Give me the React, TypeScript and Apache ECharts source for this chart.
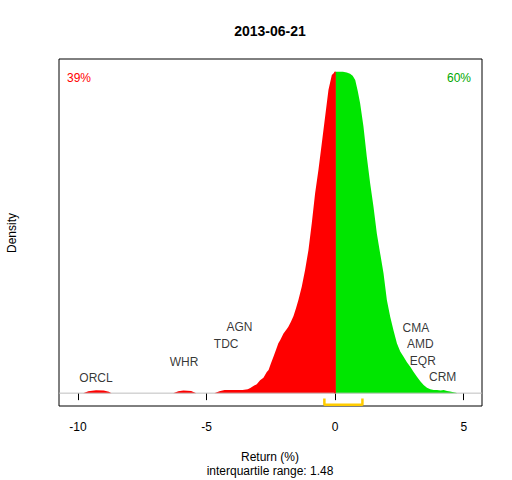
import React, { useEffect, useRef } from "react";
import * as echarts from "echarts";

const titleText = "2013-06-21";
const xTicks = [-10, -5, 0, 5];
const xMin = -10.74;
const xMax = 5.71;

const redX = [-9.8, -9.6, -9.3, -9.0, -8.8, -8.7, -6.3, -6.1, -5.9, -5.6, -5.4, -4.7, -4.5, -4.3, -3.6, -3.4, -3.3, -3.18, -3.05, -2.92, -2.79, -2.66, -2.59, -2.5, -2.4, -2.3, -2.21, -2.14, -2.01, -1.88, -1.82, -1.72, -1.62, -1.52, -1.43, -1.3, -1.17, -1.04, -0.91, -0.78, -0.65, -0.52, -0.39, -0.26, -0.13, 0];
const redDensity = [0, 0.006, 0.009, 0.008, 0.004, 0, 0, 0.006, 0.008, 0.007, 0, 0, 0.006, 0.01, 0.01, 0.012, 0.016, 0.022, 0.028, 0.04, 0.048, 0.066, 0.072, 0.092, 0.113, 0.135, 0.155, 0.165, 0.186, 0.2, 0.207, 0.222, 0.24, 0.265, 0.29, 0.331, 0.383, 0.445, 0.529, 0.622, 0.695, 0.778, 0.861, 0.944, 0.99, 1.0];

const greenX = [0, 0.15, 0.3, 0.45, 0.58, 0.68, 0.78, 0.88, 0.97, 1.1, 1.23, 1.36, 1.49, 1.62, 1.75, 1.88, 2.01, 2.14, 2.27, 2.4, 2.53, 2.66, 2.79, 2.92, 3.05, 3.18, 3.31, 3.44, 3.57, 3.7, 3.83, 3.96, 4.1, 4.22, 4.35, 4.47, 4.6, 4.7, 4.75];
const greenDensity = [1.0, 1.0, 1.0, 0.998, 0.994, 0.988, 0.975, 0.94, 0.902, 0.83, 0.736, 0.653, 0.58, 0.497, 0.435, 0.373, 0.29, 0.238, 0.195, 0.155, 0.13, 0.113, 0.096, 0.082, 0.066, 0.051, 0.037, 0.025, 0.017, 0.012, 0.01, 0.01, 0.008, 0.01, 0.007, 0.005, 0.003, 0.001, 0];

const labelNames = ["ORCL", "WHR", "TDC", "AGN", "CMA", "AMD", "EQR", "CRM"];
const labelX = [-9.3, -5.88, -4.24, -3.72, 3.14, 3.31, 3.41, 4.18];
const labelY = [0.048, 0.098, 0.152, 0.205, 0.203, 0.152, 0.1, 0.049];

const q1 = -0.42;
const q3 = 1.06;
const iqrText = "interquartile range: 1.48";
const negShare = "39%";
const posShare = "60%";

const FONT = '"Liberation Sans", Arial, sans-serif';

export default function App() {
  const ref = useRef<HTMLDivElement>(null);
  useEffect(() => {
    if (!ref.current) return;
    const chart = echarts.init(ref.current, null, { renderer: "svg" });
    const redData = redX.map((x, i) => [x, redDensity[i]]);
    const greenData = greenX.map((x, i) => [x, greenDensity[i]]);
    const labelData = labelNames.map((n, i) => [labelX[i], labelY[i], n]);
    const splitX = redX[redX.length - 1];
    const splitTop = redDensity[redDensity.length - 1];
    const bTop = -0.017;
    const bBot = -0.036;
    chart.setOption({
      animation: false,
      textStyle: { fontFamily: FONT },
      grid: {
        left: 59,
        right: 30,
        top: 59,
        bottom: 74,
        show: true,
        borderColor: "#000",
        borderWidth: 1,
        backgroundColor: "transparent",
      },
      xAxis: {
        type: "value",
        min: xMin,
        max: xMax,
        axisLine: { show: false },
        splitLine: { show: false },
        axisTick: {
          show: true,
          customValues: xTicks,
          length: 7,
          lineStyle: { color: "#000" },
        },
        axisLabel: {
          customValues: xTicks,
          margin: 15,
          color: "#000",
          fontSize: 12,
          fontFamily: FONT,
        },
      },
      yAxis: {
        type: "value",
        min: -0.04,
        max: 1.04,
        show: false,
        splitLine: { show: false },
      },
      series: [
        {
          type: "line",
          data: greenData,
          showSymbol: false,
          symbol: "none",
          lineStyle: { width: 0, color: "#00E600" },
          itemStyle: { color: "#00E600" },
          areaStyle: { color: "#00E600", opacity: 1 },
          z: 2,
        },
        {
          type: "line",
          data: redData,
          showSymbol: false,
          symbol: "none",
          lineStyle: { width: 0, color: "#FF0000" },
          itemStyle: { color: "#FF0000" },
          areaStyle: { color: "#FF0000", opacity: 1 },
          z: 2,
          markLine: {
            silent: true,
            symbol: "none",
            label: { show: false },
            lineStyle: { type: "solid", color: "#FF0000", width: 1.5 },
            data: [
              [
                { coord: [splitX, 0] },
                { coord: [splitX, splitTop] },
              ],
            ],
          },
        },
        {
          type: "line",
          data: [
            [xMin, 0],
            [xMax, 0],
          ],
          showSymbol: false,
          symbol: "none",
          lineStyle: { width: 1, color: "#BEBEBE" },
          z: 3,
        },
        {
          type: "line",
          data: [
            [q1, bTop],
            [q1, bBot],
            [q3, bBot],
            [q3, bTop],
          ],
          showSymbol: false,
          symbol: "none",
          lineStyle: { width: 2.5, color: "#FFCC00" },
          z: 4,
        },
        {
          type: "scatter",
          data: labelData,
          symbolSize: 0,
          label: {
            show: true,
            position: "inside",
            formatter: (p: any) => p.data[2],
            color: "#000",
            fontSize: 12,
            fontFamily: FONT,
          },
          z: 5,
        },
      ],
      graphic: [
        {
          type: "text",
          x: 270,
          y: 31,
          style: {
            text: titleText,
            fontSize: 14,
            fontWeight: "bold",
            fontFamily: FONT,
            fill: "#000",
            textAlign: "center",
            textVerticalAlign: "middle",
          },
        },
        {
          type: "text",
          x: 79,
          y: 78,
          style: {
            text: negShare,
            fontSize: 12,
            fontFamily: FONT,
            fill: "#FF0000",
            textAlign: "center",
            textVerticalAlign: "middle",
          },
        },
        {
          type: "text",
          x: 459,
          y: 78,
          style: {
            text: posShare,
            fontSize: 12,
            fontFamily: FONT,
            fill: "#00A800",
            textAlign: "center",
            textVerticalAlign: "middle",
          },
        },
        {
          type: "text",
          x: 12,
          y: 233,
          rotation: Math.PI / 2,
          style: {
            text: "Density",
            fontSize: 12,
            fontFamily: FONT,
            fill: "#000",
            textAlign: "center",
            textVerticalAlign: "middle",
          },
        },
        {
          type: "text",
          x: 270,
          y: 457,
          style: {
            text: "Return (%)",
            fontSize: 12,
            fontFamily: FONT,
            fill: "#000",
            textAlign: "center",
            textVerticalAlign: "middle",
          },
        },
        {
          type: "text",
          x: 270,
          y: 471,
          style: {
            text: iqrText,
            fontSize: 12,
            fontFamily: FONT,
            fill: "#000",
            textAlign: "center",
            textVerticalAlign: "middle",
          },
        },
      ],
    });
    return () => chart.dispose();
  }, []);
  return (
    <div
      ref={ref}
      style={{ position: "fixed", left: 0, top: 0, width: 512, height: 480, background: "#fff" }}
    />
  );
}
